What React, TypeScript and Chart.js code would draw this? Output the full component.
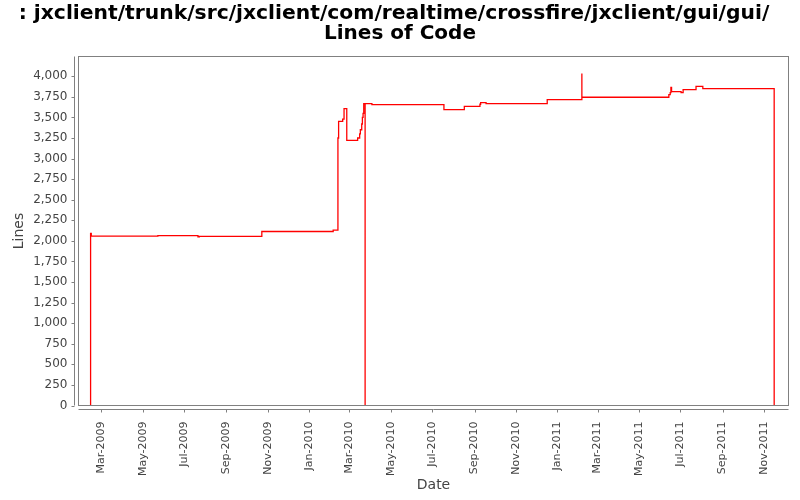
import React, { useEffect, useRef } from "react";
import { Chart, registerables } from "chart.js";

Chart.register(...registerables);

// ---- data ----
const titleLines = [
  ": jxclient/trunk/src/jxclient/com/realtime/crossfire/jxclient/gui/gui/",
  "Lines of Code",
];
const xAxisTitle = "Date";
const yAxisTitle = "Lines";

const commitDates = [
  "2009-02-13", "2009-02-13", "2009-02-14", "2009-05-23", "2009-07-21",
  "2009-07-23", "2009-10-23", "2010-02-05", "2010-02-12", "2010-02-13",
  "2010-02-19", "2010-02-21", "2010-02-25", "2010-03-13", "2010-03-16",
  "2010-03-17", "2010-03-19", "2010-03-20", "2010-03-21", "2010-03-22",
  "2010-03-24", "2010-03-24", "2010-04-03", "2010-07-18", "2010-08-17",
  "2010-09-09", "2010-09-10", "2010-09-18", "2010-12-17", "2011-02-06",
  "2011-02-06", "2011-06-14", "2011-06-16", "2011-06-17", "2011-06-18",
  "2011-07-02", "2011-07-05", "2011-07-24", "2011-08-03", "2011-11-16",
];
const linesOfCode = [
  0, 2090, 2057, 2065, 2050,
  2054, 2114, 2130, 3250, 3452,
  3480, 3607, 3222, 3250, 3300,
  3350, 3420, 3500, 3550, 3667,
  0, 3667, 3655, 3595, 3635,
  3660, 3680, 3667, 3716, 4032,
  3745, 3777, 3800, 3866, 3813,
  3800, 3837, 3877, 3850, 0,
];

const xTickLabels = [
  "Mar-2009", "May-2009", "Jul-2009", "Sep-2009", "Nov-2009",
  "Jan-2010", "Mar-2010", "May-2010", "Jul-2010", "Sep-2010",
  "Nov-2010", "Jan-2011", "Mar-2011", "May-2011", "Jul-2011",
  "Sep-2011", "Nov-2011",
];
const yTickValues = [
  0, 250, 500, 750, 1000, 1250, 1500, 1750, 2000, 2250, 2500, 2750,
  3000, 3250, 3500, 3750, 4000,
];
const xRangeStart = "2009-01-26T05:00:00Z";
const xRangeEnd = "2011-12-07T02:00:00Z";
const yRangeMax = 4240;

// ---- helpers ----
const MONTHS = ["Jan", "Feb", "Mar", "Apr", "May", "Jun", "Jul", "Aug", "Sep", "Oct", "Nov", "Dec"];
const labelToTime = (s: string) => {
  const [m, y] = s.split("-");
  return Date.UTC(Number(y), MONTHS.indexOf(m), 1);
};
const dateToTime = (s: string) => Date.parse(s + "T00:00:00Z");

const GRAY = "#808080";
const TEXT = "#444444";
const FONT = "'DejaVu Sans', sans-serif";

const decorPlugin = {
  id: "decor",
  afterDraw(chart: any) {
    const { ctx, chartArea } = chart;
    const { left, right, top, bottom } = chartArea;
    ctx.save();
    // frame
    ctx.strokeStyle = GRAY;
    ctx.lineWidth = 1;
    ctx.strokeRect(left, top, right - left, bottom - top);
    // y axis line + ticks
    const yScale = chart.scales.y;
    ctx.beginPath();
    ctx.moveTo(left - 4, top);
    ctx.lineTo(left - 4, bottom);
    yScale.ticks.forEach((t: any) => {
      const py = Math.round(yScale.getPixelForValue(t.value)) + 0.5;
      ctx.moveTo(left - 7, py);
      ctx.lineTo(left - 4, py);
    });
    // x axis line + ticks
    const xScale = chart.scales.x;
    ctx.moveTo(left, bottom + 4);
    ctx.lineTo(right, bottom + 4);
    xScale.ticks.forEach((t: any) => {
      const px = Math.round(xScale.getPixelForValue(t.value)) + 0.5;
      ctx.moveTo(px, bottom + 4);
      ctx.lineTo(px, bottom + 7);
    });
    ctx.stroke();

    // title
    ctx.fillStyle = "#000000";
    ctx.textAlign = "center";
    ctx.textBaseline = "alphabetic";
    ctx.font = "bold 20.3px 'DejaVu Sans', sans-serif";
    ctx.fillText(titleLines[0], 394, 19);
    ctx.font = "bold 20px 'DejaVu Sans', sans-serif";
    ctx.fillText(titleLines[1], 400, 39);

    // axis titles
    ctx.fillStyle = TEXT;
    ctx.font = "14px " + FONT;
    ctx.textBaseline = "middle";
    ctx.fillText(xAxisTitle, (left + right) / 2, 485);
    ctx.translate(19, (top + bottom) / 2);
    ctx.rotate(-Math.PI / 2);
    ctx.fillText(yAxisTitle, 0, 0);
    ctx.restore();
  },
};

export default function App() {
  const canvasRef = useRef<HTMLCanvasElement | null>(null);

  useEffect(() => {
    if (!canvasRef.current) return;
    const points = commitDates.map((d, i) => ({ x: dateToTime(d), y: linesOfCode[i] }));
    const chart = new Chart(canvasRef.current, {
      type: "line",
      data: {
        datasets: [
          {
            data: points,
            borderColor: "#ff0000",
            borderWidth: 1.3,
            pointRadius: 0,
            stepped: "before",
            fill: false,
          },
        ],
      },
      plugins: [decorPlugin],
      options: {
        animation: false,
        responsive: false,
        maintainAspectRatio: false,
        layout: { padding: { left: 0, top: 56.5, right: 11.5, bottom: 0 } },
        plugins: {
          legend: { display: false },
          title: { display: false },
          tooltip: { enabled: false },
        },
        scales: {
          x: {
            type: "linear",
            min: Date.parse(xRangeStart),
            max: Date.parse(xRangeEnd),
            grid: { display: false },
            border: { display: false },
            afterBuildTicks: (scale: any) => {
              scale.ticks = xTickLabels.map((l) => ({ value: labelToTime(l) }));
            },
            afterFit: (scale: any) => {
              scale.height = 94.5;
            },
            ticks: {
              autoSkip: false,
              maxRotation: 90,
              minRotation: 90,
              padding: 8,
              color: TEXT,
              font: { family: FONT, size: 11 },
              callback: (v: any) => {
                const idx = xTickLabels.findIndex((l) => labelToTime(l) === v);
                return idx >= 0 ? xTickLabels[idx] : "";
              },
            },
          },
          y: {
            type: "linear",
            min: 0,
            max: yRangeMax,
            grid: { display: false },
            border: { display: false },
            afterBuildTicks: (scale: any) => {
              scale.ticks = yTickValues.map((v) => ({ value: v }));
            },
            afterFit: (scale: any) => {
              scale.width = 78.5;
            },
            ticks: {
              padding: 3,
              color: TEXT,
              font: { family: FONT, size: 12 },
              callback: (v: any) => Number(v).toLocaleString("en-US"),
            },
          },
        },
      },
    } as any);
    return () => chart.destroy();
  }, []);

  return (
    <div style={{ position: "absolute", left: 0, top: 0, width: 800, height: 500, background: "#ffffff" }}>
      <canvas ref={canvasRef} width={800} height={500} />
    </div>
  );
}
